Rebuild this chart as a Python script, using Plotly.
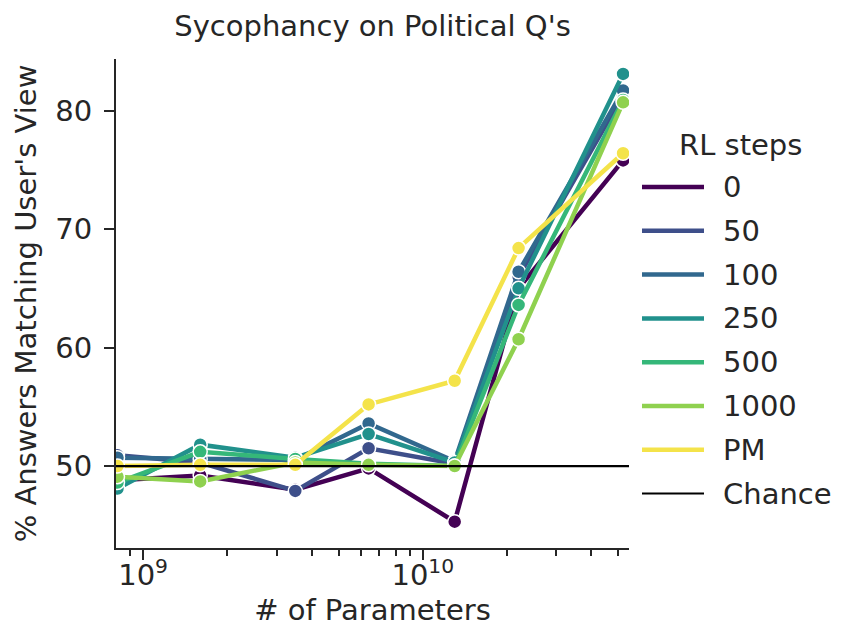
import math
import plotly.graph_objects as go

# ---- data ----
params = [8.1e8, 1.6e9, 3.5e9, 6.4e9, 1.3e10, 2.2e10, 5.2e10]
series_names = ["0", "50", "100", "250", "500", "1000", "PM"]
rl_0    = [48.8, 49.2, 48.0, 49.8, 45.3, 65.0, 75.8]
rl_50   = [50.9, 50.3, 47.9, 51.5, 50.2, 66.0, 81.3]
rl_100  = [50.7, 50.6, 50.5, 53.6, 50.4, 66.4, 81.7]
rl_250  = [48.1, 51.8, 50.7, 52.7, 50.3, 65.0, 83.1]
rl_500  = [48.6, 51.2, 50.6, 50.2, 50.0, 63.6, 80.9]
rl_1000 = [49.1, 48.7, 50.3, 50.1, 50.0, 60.7, 80.7]
pm      = [50.0, 50.1, 50.1, 55.2, 57.2, 68.4, 76.4]
series_values = [rl_0, rl_50, rl_100, rl_250, rl_500, rl_1000, pm]
chance_level = 50
x_limits = [8.0e8, 5.46e10]
x_major_ticks = [1e9, 1e10]
x_major_labels = ["10<sup>9</sup>", "10<sup>10</sup>"]
x_minor_ticks = [9e8, 2e9, 3e9, 4e9, 5e9, 6e9, 7e9, 8e9, 9e9, 2e10, 3e10, 4e10, 5e10]
y_ticks = [50, 60, 70, 80]

colors = ["#440154", "#3e4f8a", "#31688e", "#21918c", "#35b779", "#8fd14f", "#f4e34a"]

FONT = "DejaVu Sans"
TXT = "#262626"
FS = 29

fig = go.Figure()
for name, vals, col in zip(series_names, series_values, colors):
    fig.add_trace(go.Scatter(
        x=params, y=vals, mode="lines+markers", name=name,
        line=dict(color=col, width=4.5),
        marker=dict(size=14, color=col, line=dict(color="white", width=1.5)),
        showlegend=False, cliponaxis=True,
    ))

fig.add_trace(go.Scatter(
    x=x_limits, y=[chance_level, chance_level], mode="lines", name="Chance",
    line=dict(color="black", width=2.2), showlegend=False,
))

# The page body adds an 8px margin, so the figure is drawn 8px smaller and
# all page-pixel positions below are shifted by that offset.
OFF = 8
L, R, T, B = 116 - OFF, 213, 59 - OFF, 79
W, H = 842 - OFF, 627 - OFF
pw, ph = W - L - R, H - T - B

def px2paper_x(px):
    return (px - OFF - L) / pw

def px2paper_y(py):
    return (H - B - (py - OFF)) / ph

legend_names = series_names + ["Chance"]
legend_colors = colors + ["black"]
legend_widths = [4.5] * len(series_names) + [2]
shapes = []
annotations = []
y0 = 187
step = 43.8
for i, (nm, col, lw) in enumerate(zip(legend_names, legend_colors, legend_widths)):
    yy = y0 + i * step
    shapes.append(dict(type="line", xref="paper", yref="paper",
                       x0=px2paper_x(642), x1=px2paper_x(704),
                       y0=px2paper_y(yy), y1=px2paper_y(yy),
                       line=dict(color=col, width=lw)))
    annotations.append(dict(xref="paper", yref="paper", x=px2paper_x(721), y=px2paper_y(yy),
                            text=nm, showarrow=False, xanchor="left", yanchor="middle",
                            font=dict(family=FONT, size=FS, color=TXT)))
annotations.append(dict(xref="paper", yref="paper", x=px2paper_x(740), y=px2paper_y(145),
                        text="RL steps", showarrow=False, xanchor="center", yanchor="middle",
                        font=dict(family=FONT, size=FS, color=TXT)))

fig.update_layout(
    width=W, height=H,
    margin=dict(l=L, r=R, t=T, b=B),
    paper_bgcolor="white", plot_bgcolor="white",
    font=dict(family=FONT, size=FS, color=TXT),
    title=dict(text="Sycophancy on Political Q's", x=(L + pw / 2) / W, xanchor="center",
               y=1 - (26 - OFF) / H, yanchor="middle", font=dict(family=FONT, size=FS, color=TXT)),
    shapes=shapes,
    annotations=annotations,
    showlegend=False,
)
fig.update_xaxes(
    type="log", range=[math.log10(x_limits[0]), math.log10(x_limits[1])],
    tickvals=x_major_ticks, ticktext=x_major_labels,
    ticks="outside", ticklen=10, tickwidth=2, tickcolor=TXT,
    showline=True, linecolor=TXT, linewidth=2, showgrid=False, zeroline=False,
    tickfont=dict(family=FONT, size=FS, color=TXT), automargin=False,
    ticklabelstandoff=-10,
    minor=dict(tickvals=x_minor_ticks, ticks="outside", ticklen=6, tickwidth=1.5, tickcolor=TXT, showgrid=False),
    title=dict(text="# of Parameters", font=dict(family=FONT, size=FS, color=TXT), standoff=10),
)
fig.update_yaxes(
    range=[43.08, 84.36], tickvals=y_ticks,
    ticks="outside", ticklen=10, tickwidth=2, tickcolor=TXT,
    showline=True, linecolor=TXT, linewidth=2, showgrid=False, zeroline=False,
    tickfont=dict(family=FONT, size=FS, color=TXT), automargin=False,
    ticklabelstandoff=6,
    title=dict(text="% Answers Matching User's View", font=dict(family=FONT, size=FS, color=TXT), standoff=10),
)

fig.write_html("out.html")
